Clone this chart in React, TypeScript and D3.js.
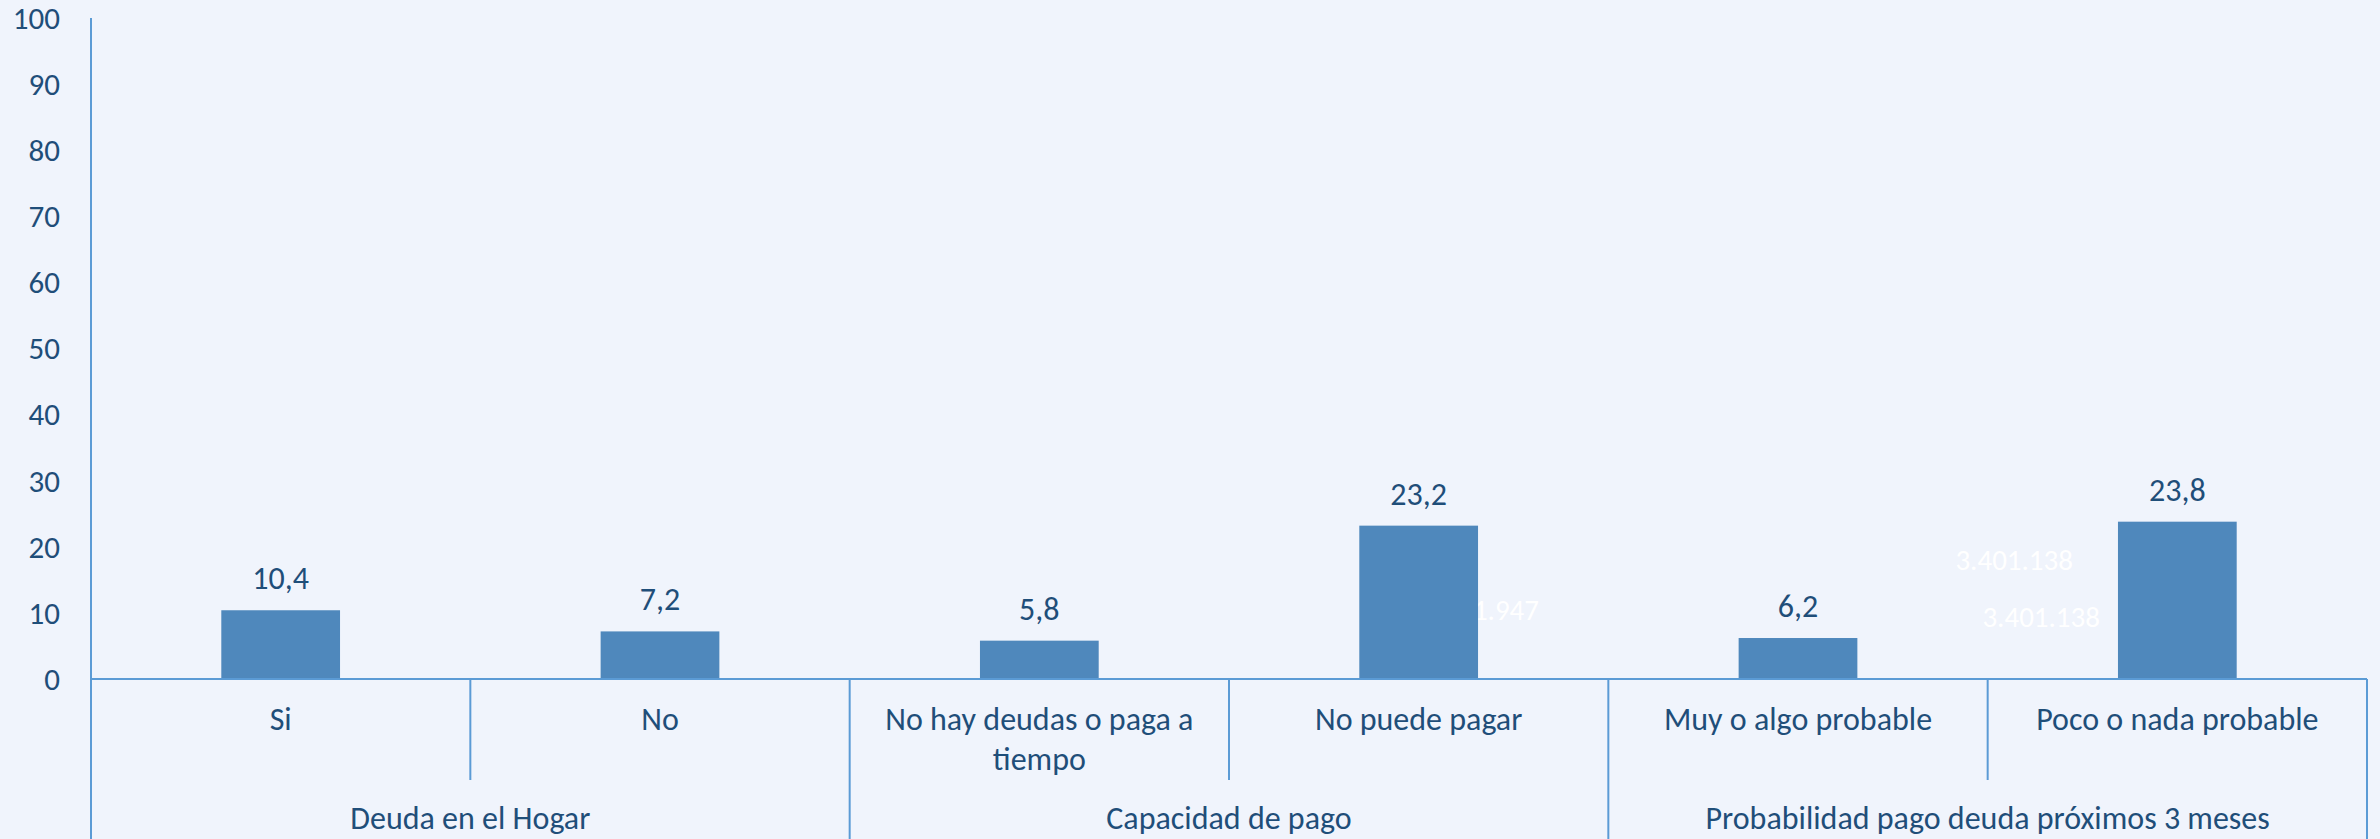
import React from "react";
import * as d3 from "d3";

const categories = ["Si", "No", "No hay deudas o paga a tiempo", "No puede pagar", "Muy o algo probable", "Poco o nada probable"];
const categoryLines = [["Si"], ["No"], ["No hay deudas o paga a", "tiempo"], ["No puede pagar"], ["Muy o algo probable"], ["Poco o nada probable"]];
const values = [10.4, 7.2, 5.8, 23.2, 6.2, 23.8];
const valueLabels = ["10,4", "7,2", "5,8", "23,2", "6,2", "23,8"];
const groups = ["Deuda en el Hogar", "Capacidad de pago", "Probabilidad pago deuda próximos 3 meses"];
const groupOfCategory = [0, 0, 1, 1, 2, 2];
const yTicks = [0, 10, 20, 30, 40, 50, 60, 70, 80, 90, 100];
// faint leftover labels visible in the source image
const ghostLabels = ["1.947", "3.401.138", "3.401.138"];
const ghostValues = [8.9, 16.5, 7.9];

const W = 2380;
const H = 839;
const BG = "#F0F4FC";
const BAR = "#4F88BC";
const TEXT = "#1F4E79";
const AXIS = "#5B9BD5";
const FONT = "Carlito, 'Open Sans', sans-serif";
const FS = 32;
const FS_TICK = 31;
const FS_GHOST = 29;

export default function App() {
  const x = d3.scaleBand<string>().domain(categories).range([91, 2367]).padding(0);
  const y = d3.scaleLinear().domain([0, 100]).range([679, 18]);
  const bw = x.bandwidth();
  const barW = bw * 0.313;

  const groupSpans = groups.map((g, gi) => {
    const idx = categoryLines.map((_, i) => i).filter((i) => groupOfCategory[i] === gi);
    const x0 = x(categories[idx[0]])!;
    const x1 = x(categories[idx[idx.length - 1]])! + bw;
    return { g, x0, x1 };
  });

  const ghostX = [
    x(categories[3])! + bw / 2 + barW / 2 + 61,
    x(categories[5])! + bw / 2 - barW / 2 - 45,
    x(categories[5])! + bw / 2 - barW / 2 - 18,
  ];

  return (
    <svg width={W} height={H} style={{ position: "absolute", left: 0, top: 0, display: "block" }} fontFamily={FONT}>
      <rect x={0} y={0} width={W} height={H} fill={BG} />
      {ghostLabels.map((t, i) => (
        <text key={"gh" + i} x={ghostX[i]} y={y(ghostValues[i])} fill="#FFFFFF" fontSize={FS_GHOST} textAnchor="end">
          {t}
        </text>
      ))}
      {yTicks.map((t) => (
        <text key={"yt" + t} x={60} y={y(t)} dy="0.35em" textAnchor="end" fill={TEXT} fontSize={FS_TICK}>
          {t}
        </text>
      ))}
      {categories.map((c, i) => (
        <rect
          key={"b" + i}
          x={x(c)! + bw / 2 - barW / 2}
          y={y(values[i])}
          width={barW}
          height={y(0) - y(values[i])}
          fill={BAR}
        />
      ))}
      {categories.map((c, i) => (
        <text key={"v" + i} x={x(c)! + bw / 2} y={y(values[i]) - 21} textAnchor="middle" fill={TEXT} fontSize={FS}>
          {valueLabels[i]}
        </text>
      ))}
      <line x1={91} x2={91} y1={y(100)} y2={H} stroke={AXIS} strokeWidth={2} />
      <line x1={91} x2={2367} y1={y(0)} y2={y(0)} stroke={AXIS} strokeWidth={2} />
      {categories.slice(1).map((c, i) => {
        const xi = x(c)!;
        const boundary = groupOfCategory[i] !== groupOfCategory[i + 1];
        return <line key={"d" + i} x1={xi} x2={xi} y1={y(0)} y2={boundary ? H : 780} stroke={AXIS} strokeWidth={2} />;
      })}
      <line x1={2367} x2={2367} y1={y(0)} y2={H} stroke={AXIS} strokeWidth={2} />
      {categories.map((c, i) => (
        <text key={"c" + i} x={x(c)! + bw / 2} y={730} textAnchor="middle" fill={TEXT} fontSize={FS}>
          {categoryLines[i].map((ln, j) => (
            <tspan key={j} x={x(c)! + bw / 2} dy={j === 0 ? 0 : 40}>
              {ln}
            </tspan>
          ))}
        </text>
      ))}
      {groupSpans.map((s, i) => (
        <text key={"g" + i} x={(s.x0 + s.x1) / 2} y={829} textAnchor="middle" fill={TEXT} fontSize={FS}>
          {s.g}
        </text>
      ))}
    </svg>
  );
}
